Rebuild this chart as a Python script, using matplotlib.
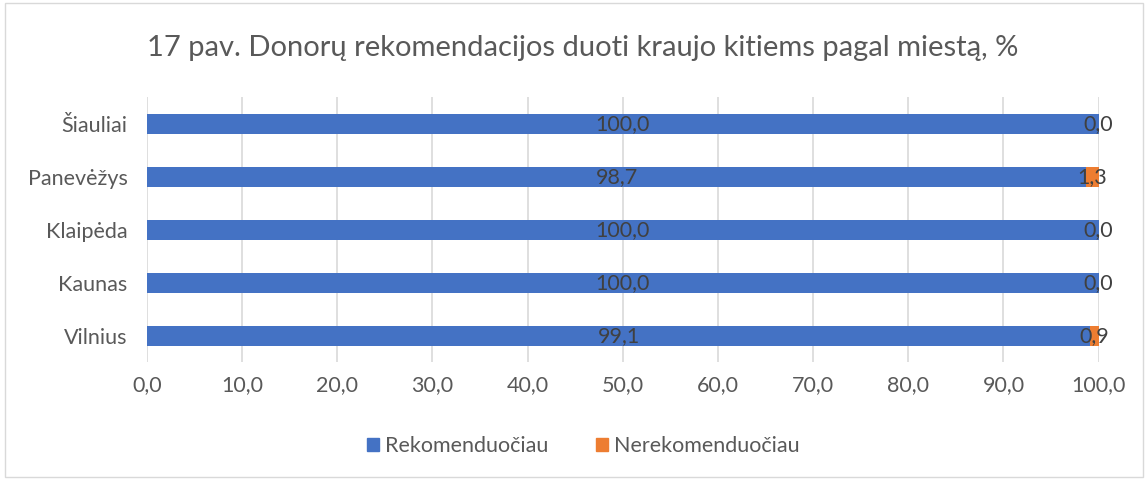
import matplotlib
matplotlib.use("Agg")
import matplotlib.pyplot as plt
import matplotlib.patches as mpatches
import numpy as np

plt.rcParams['font.family'] = ['Lato', 'DejaVu Sans']

miestai = ["Vilnius", "Kaunas", "Klaipėda", "Panevėžys", "Šiauliai"]
rekomenduociau = [99.1, 100.0, 100.0, 98.7, 100.0]
nerekomenduociau = [0.9, 0.0, 0.0, 1.3, 0.0]
xticks = [0, 10, 20, 30, 40, 50, 60, 70, 80, 90, 100]

BLUE = "#4472C4"
ORANGE = "#ED7D31"
TXT = "#595959"
LBL = "#404040"
FS = 15.5

fig = plt.figure(figsize=(11.48, 4.8), dpi=100)
ax = fig.add_axes([0.128, 0.245, 0.829, 0.552])

y = np.arange(len(miestai))
h = 0.38
ax.barh(y, rekomenduociau, height=h, color=BLUE, zorder=3)
ax.barh(y, nerekomenduociau, height=h, left=rekomenduociau, color=ORANGE, zorder=3)

def fmt(v):
    return f"{v:.1f}".replace(".", ",")

for i in range(len(miestai)):
    ax.text(rekomenduociau[i] / 2, y[i], fmt(rekomenduociau[i]), ha="center", va="center",
            fontsize=FS, color=LBL, zorder=4)
    ax.text(rekomenduociau[i] + nerekomenduociau[i] / 2, y[i], fmt(nerekomenduociau[i]),
            ha="center", va="center", fontsize=FS, color=LBL, zorder=4)

ax.set_xlim(0, 100)
ax.set_ylim(-0.5, len(miestai) - 0.5)
ax.set_xticks(xticks)
ax.set_xticklabels([fmt(v) for v in xticks])
ax.set_yticks(y)
ax.set_yticklabels(miestai)
ax.tick_params(axis="both", length=0, labelsize=FS, labelcolor=TXT)
ax.tick_params(axis="x", pad=9)
ax.tick_params(axis="y", pad=14)
ax.grid(axis="x", color="#d9d9d9", linewidth=1.2, zorder=0)
for s in ax.spines.values():
    s.set_visible(False)

fig.text(0.508, 0.9, "17 pav. Donorų rekomendacijos duoti kraujo kitiems pagal miestą, %",
         ha="center", va="center", fontsize=21, color=TXT)

handles = [mpatches.Patch(color=BLUE, label="Rekomenduočiau"),
           mpatches.Patch(color=ORANGE, label="Nerekomenduočiau")]
fig.legend(handles=handles, loc="center", bbox_to_anchor=(0.508, 0.07), ncol=2,
           frameon=False, fontsize=FS, labelcolor=TXT, handlelength=0.55,
           handleheight=0.55, handletextpad=0.3, columnspacing=2.2)

border = mpatches.Rectangle((0.004, 0.006), 0.992, 0.988, transform=fig.transFigure,
                            fill=False, edgecolor="#d9d9d9", linewidth=1)
fig.patches.append(border)

fig.savefig("out.png", dpi=100)
